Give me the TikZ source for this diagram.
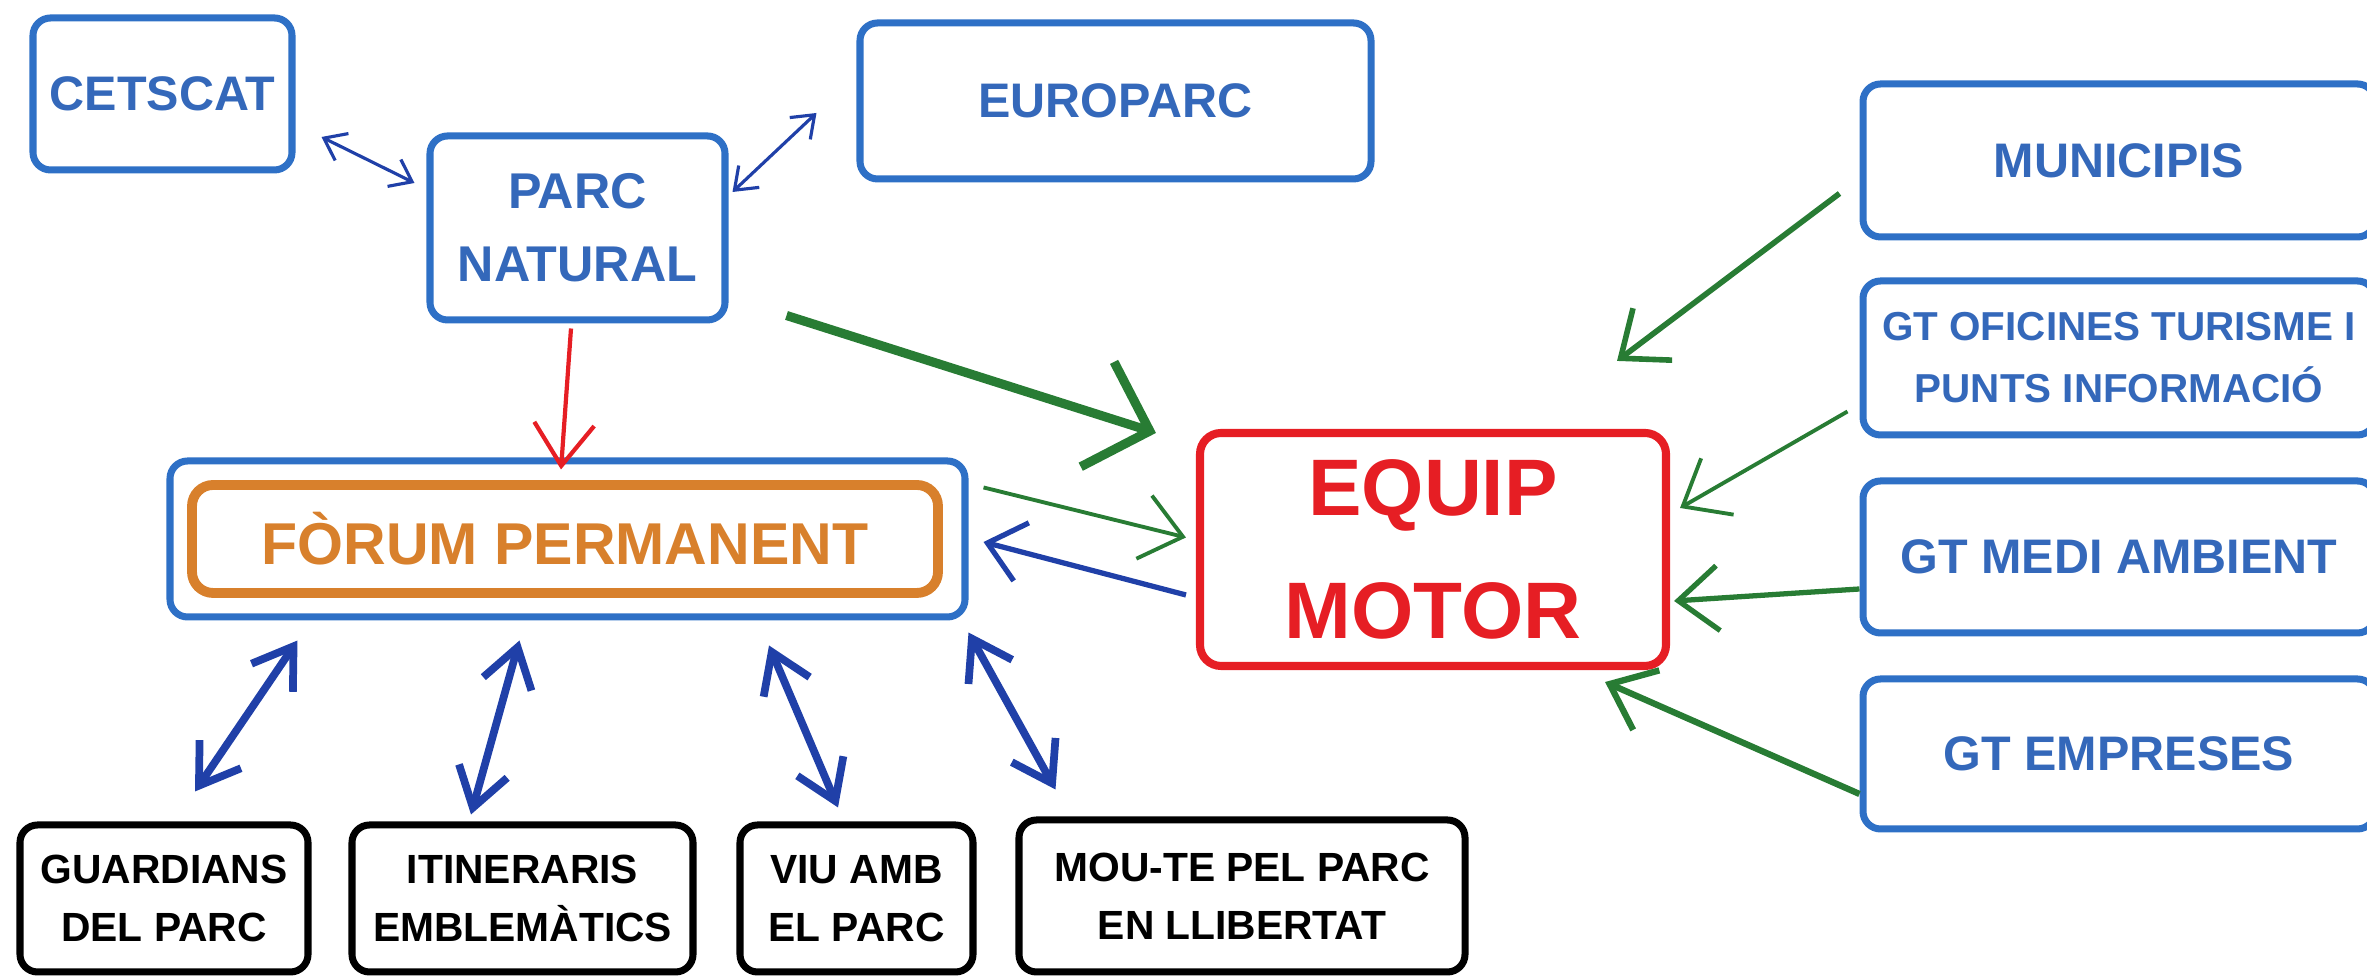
\documentclass[tikz,border=0pt]{standalone}
\usepackage{fontspec}
\setmainfont{Liberation Sans}
\usetikzlibrary{arrows.meta}
\definecolor{boxblue}{RGB}{46,112,198}
\definecolor{txtblue}{RGB}{52,104,186}
\definecolor{arrblue}{RGB}{32,64,168}
\definecolor{arrgreen}{RGB}{40,124,52}
\definecolor{motorred}{RGB}{230,30,36}
\definecolor{forumorange}{RGB}{216,128,44}
\begin{document}
\begin{tikzpicture}[
		bluebox/.style={draw=boxblue, line width=2pt, rounded corners=5pt, text=txtblue, align=center, inner sep=0pt},
		blackbox/.style={draw=black, line width=2pt, rounded corners=5pt, align=center, inner sep=0pt, minimum height=1.47cm, font=\bfseries\fontsize{11.6}{16.5}\selectfont},
		sidebox/.style={bluebox, minimum width=5.12cm, font=\bfseries\fontsize{13.8}{17}\selectfont},
		twoway/.style={arrblue, line width=2.2pt, {Straight Barb[length=0.38cm,width=0.5cm]}-{Straight Barb[length=0.38cm,width=0.5cm]}},
		twowaythin/.style={arrblue, line width=0.9pt, {Straight Barb[length=0.2cm,width=0.3cm]}-{Straight Barb[length=0.2cm,width=0.3cm]}},
		feed/.style={arrgreen, line width=#1, -{Straight Barb[length=0.4cm,width=0.65cm]}},
		feed/.default=1.5pt]
		\useasboundingbox (0,0) rectangle (23.67,9.77);
		\clip (0,0) rectangle (23.67,9.77);
		\node[bluebox, minimum width=2.59cm, minimum height=1.52cm, font=\bfseries\fontsize{13.8}{17}\selectfont] (cetscat) at (1.625,8.83) {CETSCAT};
		\node[bluebox, minimum width=5.11cm, minimum height=1.56cm, font=\bfseries\fontsize{13.8}{17}\selectfont] (europarc) at (11.155,8.76) {EUROPARC};
		\node[bluebox, minimum width=2.95cm, minimum height=1.84cm, font=\bfseries\fontsize{14.3}{20.8}\selectfont] (parc) at (5.775,7.49) {PARC\\NATURAL};
		\node[bluebox, minimum width=7.95cm, minimum height=1.56cm] (forum) at (5.675,4.38) {};
		\node[draw=forumorange, line width=2.8pt, rounded corners=6pt, text=forumorange, minimum width=7.46cm, minimum height=1.08cm, inner sep=0pt, font=\bfseries\fontsize{16.8}{20}\selectfont] (forumin) at (5.65,4.38) {FÒRUM PERMANENT};
		\node[draw=motorred, line width=2.3pt, rounded corners=6pt, text=motorred, align=center, minimum width=4.66cm, minimum height=2.33cm, inner sep=0pt, font=\bfseries\fontsize{22.8}{35}\selectfont] (equip) at (14.33,4.275) {EQUIP\\MOTOR};
		\node[sidebox, minimum height=1.53cm] (munic) at (21.19,8.165) {MUNICIPIS};
		\node[sidebox, minimum height=1.54cm, font=\bfseries\fontsize{11.5}{17.6}\selectfont] (oficines) at (21.19,6.19) {GT OFICINES TURISME I\\PUNTS INFORMACIÓ};
		\node[sidebox, minimum height=1.52cm] (medi) at (21.19,4.20) {GT MEDI AMBIENT};
		\node[sidebox, minimum height=1.50cm] (empreses) at (21.19,2.23) {GT EMPRESES};
		\node[blackbox, minimum width=2.88cm] (guardians) at (1.64,0.785) {GUARDIANS\\DEL PARC};
		\node[blackbox, minimum width=3.41cm] (itiner) at (5.225,0.785) {ITINERARIS\\EMBLEMÀTICS};
		\node[blackbox, minimum width=2.33cm] (viu) at (8.565,0.785) {VIU AMB\\EL PARC};
		\node[blackbox, minimum width=4.46cm, minimum height=1.52cm] (moute) at (12.42,0.81) {MOU-TE PEL PARC\\EN LLIBERTAT};
		\draw[twowaythin] ([xshift=0.26cm,yshift=-0.43cm]cetscat.east) -- ([xshift=-0.12cm,yshift=0.45cm]parc.west);
		\draw[twowaythin] ([xshift=0.04cm,yshift=0.36cm]parc.east) -- ([xshift=-0.40cm,yshift=-0.12cm]europarc.west);
		\draw[motorred, line width=1.2pt, -{Straight Barb[length=0.42cm,width=0.6cm]}] ([xshift=-0.065cm,yshift=-0.05cm]parc.south) -- ([xshift=-0.065cm,yshift=-0.12cm]forum.north);
		\draw[arrgreen, line width=2.6pt, -{Straight Barb[length=0.55cm,width=1.1cm]}] ([xshift=0.58cm,yshift=0.08cm]parc.south east) -- ([xshift=-0.40cm,yshift=-0.04cm]equip.north west);
		\draw[feed=1.1pt] ([xshift=0.15cm,yshift=-0.30cm]forum.north east) -- ([xshift=-0.10cm,yshift=0.12cm]equip.west);
		\draw[arrblue, line width=1.5pt, -{Straight Barb[length=0.35cm,width=0.6cm]}] ([xshift=-0.10cm,yshift=-0.455cm]equip.west) -- ([xshift=0.15cm,yshift=-0.03cm]forum.east);
		\draw[feed=1.6pt] ([xshift=-0.20cm,yshift=0.47cm]munic.south west) -- ([xshift=-0.53cm,yshift=0.68cm]equip.north east);
		\draw[feed=1.1pt] ([xshift=-0.12cm,yshift=0.27cm]oficines.south west) -- ([xshift=0.10cm,yshift=0.415cm]equip.east);
		\draw[feed=1.5pt] ([yshift=-0.32cm]medi.west) -- ([xshift=0.04cm,yshift=-0.515cm]equip.east);
		\draw[feed=1.8pt] ([yshift=-0.40cm]empreses.west) -- ([xshift=-0.65cm,yshift=-0.12cm]equip.south east);
		\draw[twoway] ([xshift=1.31cm,yshift=-0.20cm]forum.south west) -- ([xshift=0.31cm,yshift=0.30cm]guardians.north);
		\draw[twoway] ([xshift=3.53cm,yshift=-0.20cm]forum.south west) -- ([xshift=-0.515cm,yshift=0.07cm]itiner.north);
		\draw[twoway] ([xshift=2.015cm,yshift=-0.25cm]forum.south) -- ([xshift=-0.185cm,yshift=0.14cm]viu.north);
		\draw[twoway] ([yshift=-0.12cm]forum.south east) -- ([xshift=0.40cm,yshift=0.27cm]moute.north west);
\end{tikzpicture}
\end{document}
